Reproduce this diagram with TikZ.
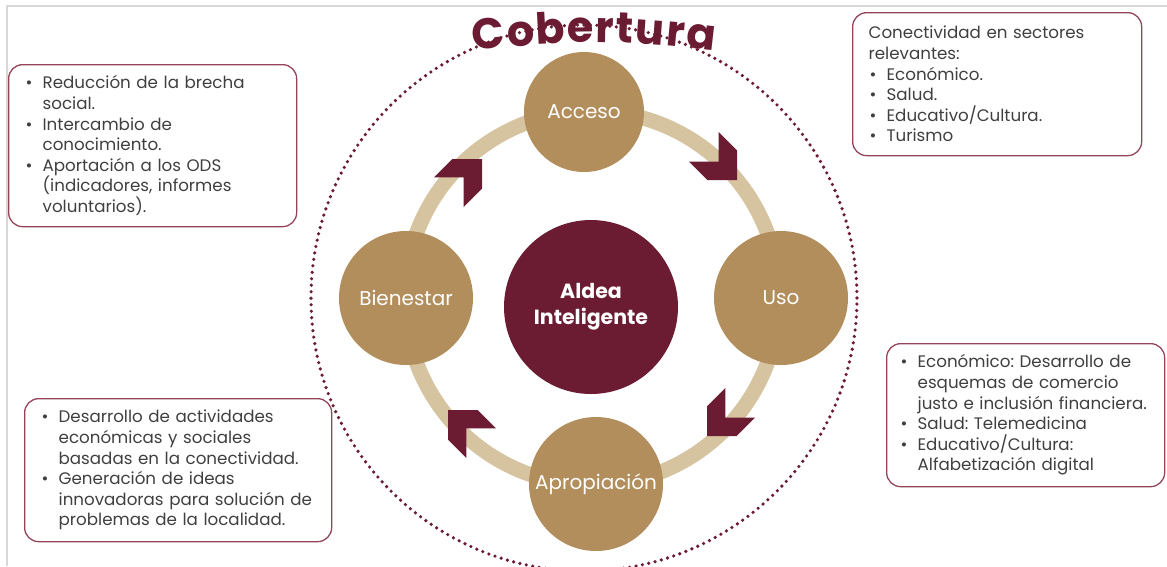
\documentclass[tikz,border=0pt]{standalone}
\usepackage{fontspec}
\setmainfont{Poppins}
\usetikzlibrary{positioning,decorations.text}

\definecolor{maroon}{HTML}{6B1C33}
\definecolor{tan}{HTML}{B38E5D}
\definecolor{ringtan}{HTML}{D6C3A0}
\definecolor{boxline}{HTML}{934459}
\definecolor{boxtext}{HTML}{3F3F3F}
\definecolor{framegray}{HTML}{D8D8D8}

\frenchspacing
\newcommand{\bul}{\makebox[18pt][l]{\hspace{1pt}\textbullet}}
\newcommand{\ind}{\hspace*{18pt}}

\tikzset{
  stage/.style={circle, fill=tan, text=white, inner sep=0pt, font=\fontsize{20}{24}\selectfont},
  core/.style={circle, fill=maroon, text=white, inner sep=0pt, align=center, font=\bfseries\fontsize{20.5}{26}\selectfont},
  infobox/.style={draw=boxline, line width=1.3pt, rounded corners=14pt, align=left, inner xsep=16pt, inner ysep=0pt, text=boxtext, font=\fontsize{16.7}{20.6}\selectfont},
  chevron/.pic={\fill[maroon] (0,0) -- (-21,21) -- (-47,21) -- (-26,0) -- (-47,-21) -- (-21,-21) -- cycle;}
}

\begin{document}
\begin{tikzpicture}[x=1pt,y=1pt]
\useasboundingbox (0,0) rectangle (1167,-566);
\draw[framegray, line width=1.5pt] (7,-566) -- (7,-6) -- (1167,-6); % frame
\coordinate (O) at (584,-298); % centre of Cobertura
\coordinate (C) at (592,-298); % centre of the ring
\draw[maroon, line width=3.6pt, line cap=round, dash pattern=on 0pt off 6.5pt] (O) circle[radius=273]; % Cobertura (dots)
\draw[ringtan, line width=15pt] (C) circle[radius=187]; % ring
%% Chevrons on the ring, clockwise.
\pic[rotate=45] at (482,-159) {chevron}; % Bienestar -> Acceso
\pic[rotate=-45] at (737,-180) {chevron}; % Acceso -> Uso
\pic[rotate=-135] at (707,-436) {chevron}; % Uso -> Apropiacion
\pic[rotate=135] at (448,-410) {chevron}; % Apropiacion -> Bienestar
%% The four stages and the core.
\node[stage, minimum size=120] (acceso) at (584,-112) {Acceso};
\node[stage, minimum size=134] (uso) at (781,-298) {Uso};
\node[stage, minimum size=134] (bienestar) at (406,-298) {Bienestar};
\node[stage, minimum size=134] (apropiacion) at (596,-484) {Apropiación};
\node[core, minimum size=174] (aldea) at (591,-307) {Aldea\\Inteligente};
%% Title along the top of the dotted circle.
\path[decorate, decoration={text along path, text align=fit to path, text color=maroon,
  text={|\bfseries\fontsize{43}{43}\selectfont|Cobertura}}] (474,-51) to[bend left=7] (714,-51);
%% Boxes with the notes.
\node[infobox, text width=256, minimum height=162, below right=0pt of {(8,-64)}] (logros)
  {\bul Reducción de la brecha\\ \ind social.\\ \bul Intercambio de\\ \ind conocimiento.\\
   \bul Aportación a los ODS\\ \ind (indicadores, informes\\ \ind voluntarios).};
\node[infobox, text width=257, minimum height=143, below right=0pt of {(852,-12)}] (sectores)
  {Conectividad en sectores\\ relevantes:\\ \bul Económico.\\ \bul Salud.\\
   \bul Educativo/Cultura.\\ \bul Turismo};
\node[infobox, inner xsep=13pt, text width=252, minimum height=143, below right=0pt of {(886,-343)}] (usos)
  {\bul Económico: Desarrollo de\\ \ind esquemas de comercio\\ \ind justo e inclusión\ financiera.\\
   \bul Salud: Telemedicina\\ \bul Educativo/Cultura:\\ \ind Alfabetización digital};
\node[infobox, text width=275, minimum height=143, below right=0pt of {(24,-398)}] (apropia)
  {\bul Desarrollo de actividades\\ \ind económicas y sociales\\ \ind basadas en la conectividad.\\
   \bul Generación de ideas\\ \ind innovadoras para solución de\\ \ind problemas de la localidad.};
\end{tikzpicture}
\end{document}
